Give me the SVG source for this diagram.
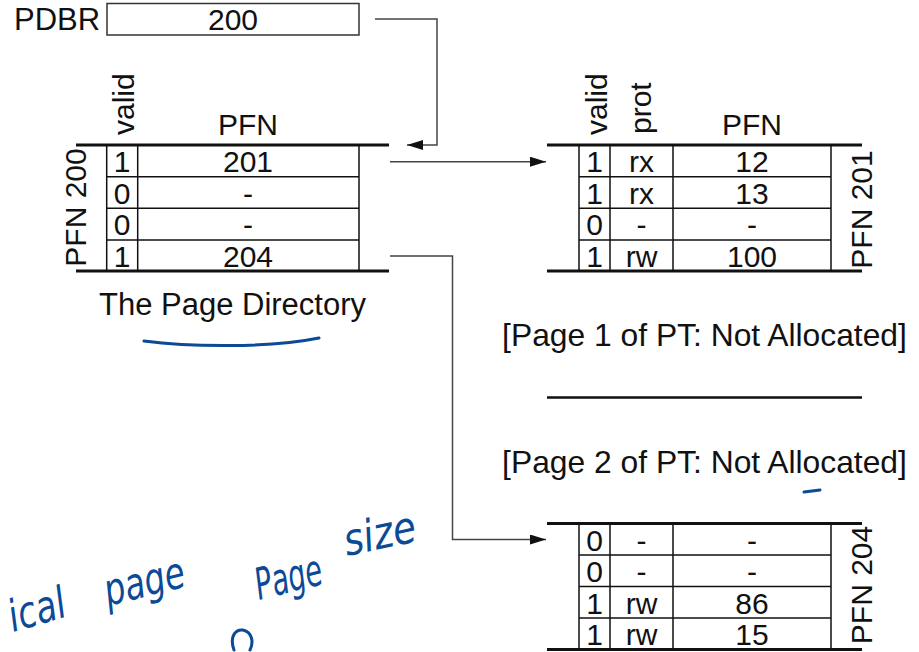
<svg xmlns="http://www.w3.org/2000/svg" width="919" height="652" viewBox="0 0 919 652">
<style>
text{font-family:"Liberation Sans",Arial,Helvetica,sans-serif;fill:#111}
.t{font-size:30px;text-anchor:middle}
.lbl{font-size:31px}
.big{font-size:31.8px;text-anchor:middle}
.hd{font-size:30px}
.thick{stroke:#111;stroke-width:3;fill:none}
.grid{stroke:#111;stroke-width:1.5;fill:none}
.conn{stroke:#444;stroke-width:1.5;fill:none}
.ink{stroke:#0b4a97;stroke-width:3;fill:none;stroke-linecap:round;stroke-linejoin:round}
.hw{font-family:"DejaVu Sans",sans-serif;font-style:italic;fill:#0b4a97;font-size:44px}
</style>
<defs>
<marker id="ah" markerUnits="userSpaceOnUse" markerWidth="16" markerHeight="10" refX="16" refY="5" orient="auto">
<path d="M0,0 L16,5 L0,10 z" fill="#111"/>
</marker>
</defs>
<rect width="919" height="652" fill="#fff"/>

<g id="pdbr">
<text class="lbl" x="14" y="30">PDBR</text>
<rect x="107" y="3.5" width="252" height="31.5" fill="none" stroke="#333" stroke-width="1.5"/>
<text class="t" x="233" y="30">200</text>
</g>

<g id="page-directory">
<text class="hd" transform="translate(134,135) rotate(-90)">valid</text>
<text class="t" x="248" y="135">PFN</text>
<line class="thick" x1="76" y1="145" x2="389" y2="145"/>
<line class="thick" x1="76" y1="271" x2="389" y2="271"/>
<path class="grid" d="M106.7,145 V271 M137.7,145 V271 M359,145 V271 M106.7,176.7 H359 M106.7,208.3 H359 M106.7,240 H359"/>
<text class="t" x="122" y="172">1</text><text class="t" x="248" y="172">201</text>
<text class="t" x="122" y="203.6">0</text><text class="t" x="248" y="203.6">-</text>
<text class="t" x="122" y="235.2">0</text><text class="t" x="248" y="235.2">-</text>
<text class="t" x="122" y="266.8">1</text><text class="t" x="248" y="266.8">204</text>
<text class="t" transform="translate(86,207.5) rotate(-90)">PFN 200</text>
<text class="lbl" x="232.5" y="315" text-anchor="middle">The Page Directory</text>
</g>

<g id="pt-201">
<text class="hd" transform="translate(607,135) rotate(-90)">valid</text>
<text class="hd" transform="translate(651,134) rotate(-90)">prot</text>
<text class="t" x="752" y="135">PFN</text>
<line class="thick" x1="547" y1="145" x2="862" y2="145"/>
<line class="thick" x1="547" y1="271" x2="862" y2="271"/>
<path class="grid" d="M579,145 V271 M610,145 V271 M673,145 V271 M831,145 V271 M579,176.7 H831 M579,208.3 H831 M579,240 H831"/>
<text class="t" x="594.5" y="172">1</text><text class="t" x="641.5" y="172">rx</text><text class="t" x="752" y="172">12</text>
<text class="t" x="594.5" y="203.6">1</text><text class="t" x="641.5" y="203.6">rx</text><text class="t" x="752" y="203.6">13</text>
<text class="t" x="594.5" y="235.2">0</text><text class="t" x="641.5" y="235.2">-</text><text class="t" x="752" y="235.2">-</text>
<text class="t" x="594.5" y="266.8">1</text><text class="t" x="641.5" y="266.8">rw</text><text class="t" x="752" y="266.8">100</text>
<text class="t" transform="translate(872,209.5) rotate(-90)">PFN 201</text>
</g>

<g id="pt-page1">
<text class="big" x="704.5" y="346">[Page 1 of PT: Not Allocated]</text>
<line x1="547" y1="397.5" x2="862" y2="397.5" stroke="#111" stroke-width="2.5"/>
</g>

<g id="pt-page2">
<text class="big" x="704.5" y="473">[Page 2 of PT: Not Allocated]</text>
</g>

<g id="pt-204">
<line class="thick" x1="547" y1="523.5" x2="862" y2="523.5"/>
<line class="thick" x1="547" y1="649.5" x2="862" y2="649.5"/>
<path class="grid" d="M579,523.5 V649.5 M610,523.5 V649.5 M673,523.5 V649.5 M831,523.5 V649.5 M579,555 H831 M579,586.5 H831 M579,618 H831"/>
<text class="t" x="594.5" y="550.5">0</text><text class="t" x="641.5" y="550.5">-</text><text class="t" x="752" y="550.5">-</text>
<text class="t" x="594.5" y="582">0</text><text class="t" x="641.5" y="582">-</text><text class="t" x="752" y="582">-</text>
<text class="t" x="594.5" y="613.5">1</text><text class="t" x="641.5" y="613.5">rw</text><text class="t" x="752" y="613.5">86</text>
<text class="t" x="594.5" y="645">1</text><text class="t" x="641.5" y="645">rw</text><text class="t" x="752" y="645">15</text>
<text class="t" transform="translate(872,585) rotate(-90)">PFN 204</text>
</g>

<g id="connectors">
<path class="conn" d="M375,19 H437 V145 H407" marker-end="url(#ah)"/>
<path class="conn" d="M390,161.7 H546" marker-end="url(#ah)"/>
<path class="conn" d="M390,256 H452.5 V539.5 H546" marker-end="url(#ah)"/>
</g>

<g id="annotations">
<path class="ink" d="M144,341 C190,347 270,348 319,338"/>
<path class="ink" d="M804,492 L820,490"/>
<text class="hw" transform="translate(13,632) rotate(-16)" textLength="58" lengthAdjust="spacingAndGlyphs">ical</text>
<text class="hw" transform="translate(108,606) rotate(-14)" textLength="82" lengthAdjust="spacingAndGlyphs">page</text>
<text class="hw" transform="translate(259,600) rotate(-14)" textLength="68" lengthAdjust="spacingAndGlyphs">Page</text>
<text class="hw" transform="translate(347,556) rotate(-12)" textLength="73" lengthAdjust="spacingAndGlyphs">size</text>
<path class="ink" d="M234,650 C229,636 236,629 243,630 C252,632 254,642 250,650"/>
</g>
</svg>
